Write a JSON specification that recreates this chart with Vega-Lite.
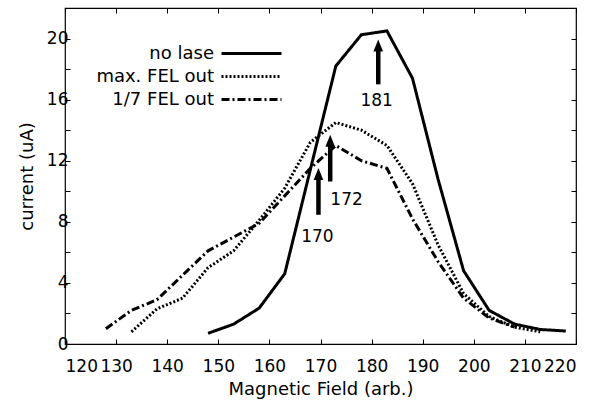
{
  "$schema": "https://vega.github.io/schema/vega-lite/v6.json",
  "width": 511,
  "height": 336,
  "autosize": {"type": "none"},
  "padding": {"left": 65, "top": 8, "right": 29, "bottom": 58},
  "background": "white",
  "config": {
    "view": {"stroke": "black", "strokeWidth": 1.2},
    "font": "DejaVu Sans",
    "axis": {
      "domain": false,
      "grid": false,
      "tickColor": "black",
      "tickSize": -5,
      "tickWidth": 1,
      "labelColor": "black",
      "labelFont": "DejaVu Sans",
      "labelFontSize": 17,
      "titleFont": "DejaVu Sans",
      "titleFontSize": 18,
      "titleFontWeight": "normal",
      "titleColor": "black"
    }
  },
  "datasets": {
    "curves": [
      {"series": "no lase", "field": 148, "current": 0.7},
      {"series": "no lase", "field": 153, "current": 1.3},
      {"series": "no lase", "field": 158, "current": 2.35},
      {"series": "no lase", "field": 163, "current": 4.6},
      {"series": "no lase", "field": 168, "current": 11.4},
      {"series": "no lase", "field": 173, "current": 18.2},
      {"series": "no lase", "field": 178, "current": 20.25},
      {"series": "no lase", "field": 183, "current": 20.5},
      {"series": "no lase", "field": 188, "current": 17.4},
      {"series": "no lase", "field": 193, "current": 10.8},
      {"series": "no lase", "field": 198, "current": 4.8},
      {"series": "no lase", "field": 203, "current": 2.2},
      {"series": "no lase", "field": 208, "current": 1.3},
      {"series": "no lase", "field": 213, "current": 0.95},
      {"series": "no lase", "field": 218, "current": 0.85},
      {"series": "max. FEL out", "field": 133, "current": 0.8},
      {"series": "max. FEL out", "field": 138, "current": 2.3},
      {"series": "max. FEL out", "field": 143, "current": 3.0},
      {"series": "max. FEL out", "field": 148, "current": 5.0},
      {"series": "max. FEL out", "field": 153, "current": 6.1},
      {"series": "max. FEL out", "field": 158, "current": 8.1},
      {"series": "max. FEL out", "field": 163, "current": 10.2},
      {"series": "max. FEL out", "field": 168, "current": 13.2},
      {"series": "max. FEL out", "field": 173, "current": 14.5},
      {"series": "max. FEL out", "field": 178, "current": 14.0},
      {"series": "max. FEL out", "field": 183, "current": 13.0},
      {"series": "max. FEL out", "field": 188, "current": 10.5},
      {"series": "max. FEL out", "field": 193, "current": 6.5},
      {"series": "max. FEL out", "field": 198, "current": 3.3},
      {"series": "max. FEL out", "field": 203, "current": 1.8},
      {"series": "max. FEL out", "field": 208, "current": 1.1},
      {"series": "max. FEL out", "field": 213, "current": 0.8},
      {"series": "1/7 FEL out", "field": 128, "current": 1.0},
      {"series": "1/7 FEL out", "field": 133, "current": 2.2},
      {"series": "1/7 FEL out", "field": 138, "current": 2.9},
      {"series": "1/7 FEL out", "field": 143, "current": 4.5},
      {"series": "1/7 FEL out", "field": 148, "current": 6.1},
      {"series": "1/7 FEL out", "field": 153, "current": 7.0},
      {"series": "1/7 FEL out", "field": 158, "current": 7.9},
      {"series": "1/7 FEL out", "field": 163, "current": 9.7},
      {"series": "1/7 FEL out", "field": 168, "current": 11.5},
      {"series": "1/7 FEL out", "field": 173, "current": 13.0},
      {"series": "1/7 FEL out", "field": 178, "current": 12.0},
      {"series": "1/7 FEL out", "field": 183, "current": 11.5},
      {"series": "1/7 FEL out", "field": 188, "current": 8.2},
      {"series": "1/7 FEL out", "field": 193, "current": 5.4},
      {"series": "1/7 FEL out", "field": 198, "current": 3.0},
      {"series": "1/7 FEL out", "field": 203, "current": 1.7},
      {"series": "1/7 FEL out", "field": 208, "current": 1.1}
    ],
    "arrows": [
      {"label": "181", "x": 181.3, "base": 17.0, "neck": 19.5, "tip": 19.93, "lx": 181, "ly": 15.9},
      {"label": "172", "x": 171.9, "base": 10.64, "neck": 13.3, "tip": 13.7, "lx": 175.1, "ly": 9.44},
      {"label": "170", "x": 169.6, "base": 8.46, "neck": 11.1, "tip": 11.52, "lx": 169.4, "ly": 7.0}
    ]
  },
  "layer": [
    {
      "data": {"name": "curves"},
      "mark": {"type": "line", "color": "black", "strokeWidth": 3},
      "encoding": {
        "x": {
          "field": "field", "type": "quantitative",
          "scale": {"domain": [120, 220], "nice": false, "zero": false},
          "axis": {
            "orient": "bottom",
            "values": [120, 130, 140, 150, 160, 170, 180, 190, 200, 210, 220],
            "title": "Magnetic Field (arb.)",
            "labelPadding": 19,
            "titlePadding": 6
          }
        },
        "y": {
          "field": "current", "type": "quantitative",
          "scale": {"domain": [0, 22], "nice": false, "zero": true},
          "axis": {
            "orient": "left",
            "values": [0, 2, 4, 6, 8, 10, 12, 14, 16, 18, 20, 22],
            "labelExpr": "datum.value % 4 == 0 ? datum.label : ''",
            "title": "current (uA)",
            "labelPadding": 2,
            "titlePadding": 10
          }
        },
        "strokeDash": {
          "field": "series", "type": "nominal",
          "scale": {
            "domain": ["no lase", "max. FEL out", "1/7 FEL out"],
            "range": [[1, 0], [2, 2], [8, 3, 2, 3]]
          },
          "legend": {
            "orient": "none",
            "legendX": 175,
            "legendY": 34,
            "title": null,
            "symbolType": "M-3,0L3,0",
            "symbolSize": 400,
            "symbolStrokeWidth": 3,
            "symbolStrokeColor": "black",
            "labelAlign": "right",
            "labelOffset": -49,
            "labelFontSize": 18,
            "labelFont": "DejaVu Sans",
            "labelColor": "black",
            "labelLimit": 400,
            "rowPadding": 2,
            "padding": 0
          }
        }
      }
    },
    {
      "data": {"name": "arrows"},
      "mark": {"type": "rule", "color": "black", "strokeWidth": 4.5},
      "encoding": {
        "x": {
          "field": "x", "type": "quantitative",
          "scale": {"domain": [120, 220], "nice": false, "zero": false},
          "axis": {"orient": "top", "values": [120, 130, 140, 150, 160, 170, 180, 190, 200, 210, 220], "labels": false, "title": null}
        },
        "y": {
          "field": "base", "type": "quantitative",
          "scale": {"domain": [0, 22], "nice": false, "zero": true},
          "axis": {"orient": "right", "values": [0, 2, 4, 6, 8, 10, 12, 14, 16, 18, 20, 22], "labels": false, "title": null}
        },
        "y2": {"field": "neck"}
      }
    },
    {
      "data": {"name": "arrows"},
      "mark": {"type": "point", "shape": "M0,0L0.8,2L-0.8,2Z", "filled": true, "size": 144, "color": "black", "opacity": 1, "strokeWidth": 0},
      "encoding": {
        "x": {"field": "x", "type": "quantitative", "scale": {"domain": [120, 220], "nice": false, "zero": false}, "axis": null},
        "y": {"field": "tip", "type": "quantitative", "scale": {"domain": [0, 22], "nice": false, "zero": true}, "axis": null}
      }
    },
    {
      "data": {"name": "arrows"},
      "mark": {"type": "text", "fontSize": 17, "font": "DejaVu Sans", "align": "center", "baseline": "middle", "color": "black"},
      "encoding": {
        "x": {"field": "lx", "type": "quantitative", "scale": {"domain": [120, 220], "nice": false, "zero": false}, "axis": null},
        "y": {"field": "ly", "type": "quantitative", "scale": {"domain": [0, 22], "nice": false, "zero": true}, "axis": null},
        "text": {"field": "label", "type": "nominal"}
      }
    }
  ],
  "resolve": {"axis": {"x": "independent", "y": "independent"}}
}
